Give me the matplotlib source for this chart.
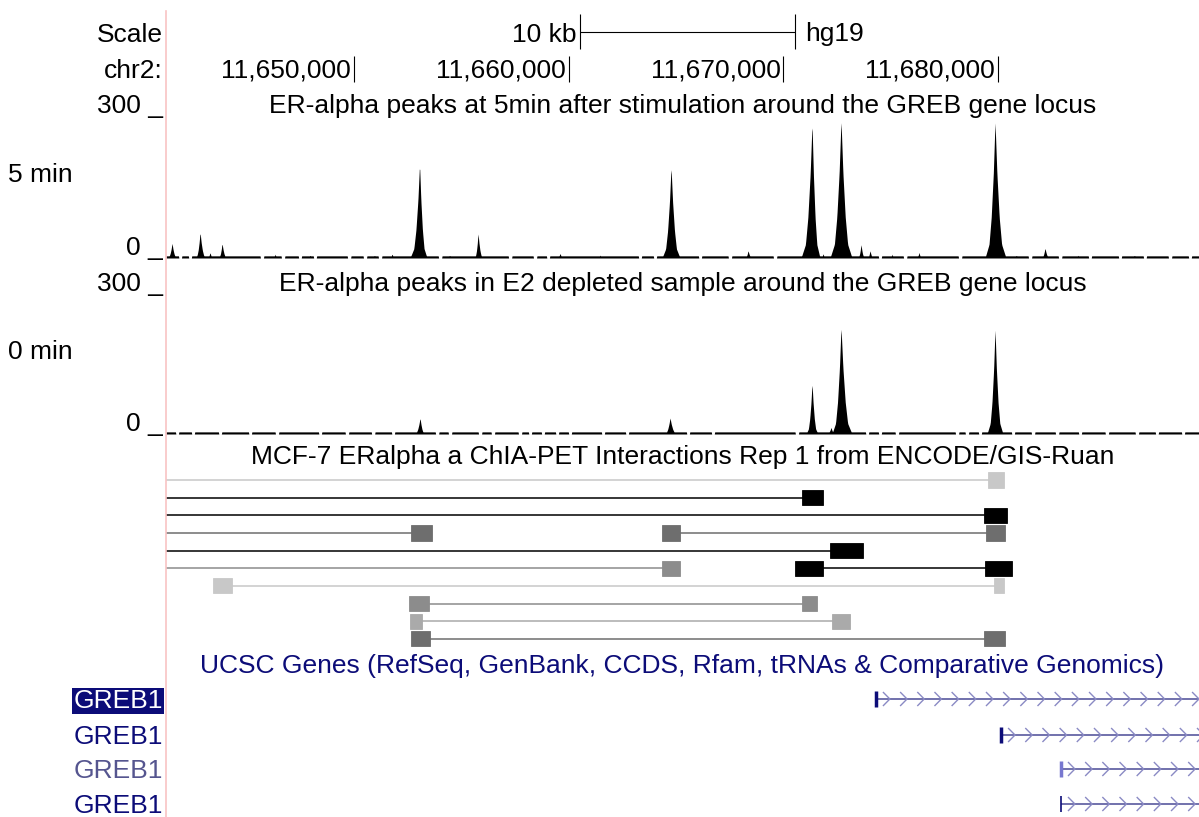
import matplotlib
matplotlib.use("Agg")
import matplotlib.pyplot as plt
import numpy as np
from matplotlib.patches import Rectangle

plt.rcParams['font.family'] = ['Liberation Sans', 'DejaVu Sans']

W, H = 1199, 817
FS = 19

# visible window on chr2 (hg19)
view = (11641240, 11689360)

ruler_ticks = [11650000, 11660000, 11670000, 11680000]
ruler_labels = ["11,650,000", "11,660,000", "11,670,000", "11,680,000"]
scale_bar = (11660530, 11670530)

# wiggle peaks: (left foot, summit, right foot, height)
peaks_5min = [
    (11641290, 11641522, 11641755, 31),
    (11642594, 11642827, 11643106, 54),
    (11643150, 11643292, 11643420, 12),
    (11643665, 11643851, 11644084, 31),
    (11644900, 11645050, 11645200, 5),
    (11646200, 11646320, 11646450, 8),
    (11647800, 11647950, 11648100, 6),
    (11649000, 11649150, 11649300, 5),
    (11650800, 11650950, 11651100, 6),
    (11651650, 11651770, 11651900, 9),
    (11652608, 11653051, 11653400, 196),
    (11654300, 11654450, 11654600, 6),
    (11655590, 11655776, 11656009, 52),
    (11656600, 11656750, 11656900, 5),
    (11659450, 11659595, 11659750, 10),
    (11660500, 11660650, 11660800, 5),
    (11661350, 11661460, 11661580, 6),
    (11662300, 11662450, 11662600, 5),
    (11664347, 11664766, 11665185, 190),
    (11666700, 11666850, 11667000, 5),
    (11668200, 11668353, 11668550, 16),
    (11670821, 11671334, 11671706, 281),
    (11671750, 11671846, 11671960, 10),
    (11672172, 11672684, 11673197, 287),
    (11673450, 11673616, 11673800, 29),
    (11673900, 11674035, 11674200, 16),
    (11674950, 11675060, 11675180, 8),
    (11676180, 11676318, 11676450, 12),
    (11677400, 11677550, 11677700, 5),
    (11679392, 11679858, 11680370, 284),
    (11680700, 11680850, 11681000, 6),
    (11682000, 11682187, 11682400, 21),
    (11683600, 11683724, 11683850, 6),
    (11685100, 11685250, 11685400, 5),
    (11686200, 11686350, 11686500, 6),
]
peaks_0min = [
    (11643800, 11643950, 11644100, 5),
    (11647000, 11647150, 11647300, 5),
    (11652795, 11653074, 11653307, 34),
    (11660700, 11660850, 11661000, 5),
    (11664440, 11664719, 11665045, 34),
    (11671054, 11671334, 11671613, 108),
    (11671990, 11672219, 11672420, 14),
    (11672260, 11672684, 11673197, 226),
    (11679485, 11679858, 11680230, 222),
    (11684200, 11684350, 11684500, 5),
]
# gaps in the baseline signal (kb)
gaps_5min = [11641.90, 11642.36, 11645.71, 11646.69, 11647.48, 11648.18, 11649.77,
             11650.51, 11651.21, 11654.01, 11657.27, 11658.43, 11659.04, 11663.32,
             11664.02, 11666.12, 11667.51, 11669.61, 11674.50, 11675.67, 11678.23,
             11681.49, 11682.89, 11684.28, 11685.68, 11686.84, 11688.01, 11688.94]
gaps_0min = [11641.76, 11642.50, 11643.76, 11645.16, 11646.41, 11648.42, 11649.67,
             11650.89, 11651.82, 11653.87, 11654.47, 11655.87, 11656.47, 11657.73,
             11658.20, 11658.80, 11659.46, 11660.06, 11661.60, 11662.72, 11665.56,
             11666.72, 11670.63, 11673.90, 11674.50, 11675.29, 11678.09, 11678.55,
             11679.16, 11680.70, 11681.63, 11682.75, 11683.82, 11685.07, 11686.47,
             11687.40, 11688.62]

# ChIA-PET interactions (None = anchor outside the window)
chia_row = [0, 1, 2, 3, 3, 4, 5, 5, 6, 7, 8, 9]
chia_left = [None, None, None, None, (11664347, 11665185), None, None,
             (11670542, 11671846), (11643432, 11644317), (11652562, 11653494),
             (11652608, 11653167), (11652655, 11653540)]
chia_right = [(11679532, 11680277), (11670868, 11671846), (11679345, 11680417),
              (11652655, 11653633), (11679439, 11680324), (11672172, 11673709),
              (11664347, 11665185), (11679392, 11680650), (11679811, 11680277),
              (11670868, 11671567), (11672265, 11673104), (11679345, 11680324)]
chia_shade = ['#c8c8c8', '#000000', '#000000', '#6e6e6e', '#6e6e6e', '#000000',
              '#8c8c8c', '#000000', '#c8c8c8', '#8c8c8c', '#aaaaaa', '#6e6e6e']

# UCSC genes
gene_names = ["GREB1", "GREB1", "GREB1", "GREB1"]
gene_starts = [11674310, 11680140, 11682930, 11682930]
gene_text_color = ['white', '#0c0c78', '#55558f', '#0c0c78']
gene_tick_color = ['#0c0c78', '#0c0c78', '#7878d0', '#0c0c78']

fig = plt.figure(figsize=(W / 100, H / 100), dpi=100)


def px_axes(x0, y0, x1, y1, ylim):
    ax = fig.add_axes([x0 / W, 1 - y1 / H, (x1 - x0) / W, (y1 - y0) / H])
    ax.set_xlim(*view)
    ax.set_ylim(*ylim)
    ax.axis('off')
    return ax


def ftext(x, y, s, **kw):
    kw.setdefault('fontsize', FS)
    kw.setdefault('va', 'baseline')
    fig.text(x / W, 1 - y / H, s, **kw)


def profile(peaks, gaps, floor=4.5):
    xs = np.arange(view[0], view[1], 20.0)
    ys = np.full_like(xs, floor)
    for g in gaps:
        ys[np.abs(xs - g * 1000) < 80] = 0
    for left, top, right, h in peaks:
        vx = [left, top - (top - left) * 0.6, top - (top - left) * 0.38,
              top - (top - left) * 0.17, top,
              top + (right - top) * 0.17, top + (right - top) * 0.38,
              top + (right - top) * 0.6, right]
        vy = [0, 0.1 * h, 0.3 * h, 0.62 * h, h, 0.62 * h, 0.3 * h, 0.1 * h, 0]
        ys = np.maximum(ys, np.interp(xs, vx, vy, left=0, right=0))
    return xs, ys


XL, XR = 166, 1199

# pink guideline between labels and data
fig.add_artist(plt.Line2D([165.5 / W, 165.5 / W], [0, 1 - 11 / H], color='#f8c4c4', lw=1.2))

# ruler
rul = px_axes(XL, 0, XR, 90, (90, 0))
rul.hlines(32, *scale_bar, color='black', lw=0.8)
rul.vlines(scale_bar, 14, 49, color='black', lw=0.8)
rul.annotate("10 kb", (scale_bar[0], 41.5), xytext=(-4, 0), textcoords='offset pixels',
             ha='right', va='baseline', fontsize=FS)
rul.annotate("hg19", (scale_bar[1], 41.5), xytext=(10, 0), textcoords='offset pixels',
             ha='left', va='baseline', fontsize=FS)
rul.vlines(ruler_ticks, 56, 82, color='black', lw=0.8)
for t, lab in zip(ruler_ticks, ruler_labels):
    rul.annotate(lab, (t, 77.5), xytext=(-3, 0), textcoords='offset pixels',
                 ha='right', va='baseline', fontsize=FS)

ftext(163, 41.5, "Scale", ha='right')
ftext(163, 77.5, "chr2:", ha='right')

# wiggle tracks
tracks = [
    ("ER-alpha peaks at 5min after stimulation around the GREB gene locus", "5 min",
     peaks_5min, gaps_5min, 114, 258, 181.5),
    ("ER-alpha peaks in E2 depleted sample around the GREB gene locus", "0 min",
     peaks_0min, gaps_0min, 292, 434, 358.5),
]
for title, lab, pk, gp, top, base, lab_y in tracks:
    ax = px_axes(XL, top, XR, base, (0, 300))
    xs, ys = profile(pk, gp)
    ax.fill_between(xs, 0, ys, color='black', lw=0)
    ftext((XL + XR) / 2, top - 1.5, title, ha='center')
    ftext(163, top - 1.5, "300 _", ha='right')
    ftext(163, base - 3.5, "0 _", ha='right')
    ftext(8, lab_y, lab, ha='left')

# ChIA-PET interactions
ftext((XL + XR) / 2, 464.5, "MCF-7 ERalpha a ChIA-PET Interactions Rep 1 from ENCODE/GIS-Ruan", ha='center')
row_h = 17.65
chia = px_axes(XL, 480 - row_h / 2, XR, 480 + 9.5 * row_h, (9.5, -0.5))
for r, a, b, c in zip(chia_row, chia_left, chia_right, chia_shade):
    x0 = view[0] if a is None else (a[0] + a[1]) / 2
    x1 = (b[0] + b[1]) / 2
    chia.hlines(r, x0, x1, color=c, lw=1.1)
    for blk in (a, b):
        if blk is None:
            continue
        chia.add_patch(Rectangle((blk[0], r - 0.43), blk[1] - blk[0], 0.86,
                                 facecolor=c, edgecolor=c, lw=0.6))

# UCSC genes
ftext((XL + XR) / 2, 672.5, "UCSC Genes (RefSeq, GenBank, CCDS, Rfam, tRNAs & Comparative Genomics)",
      ha='center', color='#0c0c78')
gene_y = [699, 735, 769, 804]
gax = px_axes(XL, 680, XR, 817, (817, 680))
chev_step = 800
for i, (nm, st) in enumerate(zip(gene_names, gene_starts)):
    y = gene_y[i]
    gax.hlines(y, st, view[1], color='#4a4a96', lw=1.1)
    for c in np.arange(st + 650, view[1] + chev_step, chev_step):
        gax.plot([c - 300, c, c - 300], [y - 6.5, y, y + 6.5], color='#8a8ac4', lw=1.0)
    lw = 2.5 if i < 3 else 1.2
    gax.vlines(st, y - 8, y + 8, color=gene_tick_color[i], lw=lw)
    if i == 0:
        ftext(163, y + 9, nm, ha='right', color='white',
              bbox=dict(boxstyle='square,pad=0.05', facecolor='#0c0c78', edgecolor='none'))
    else:
        ftext(163, y + 9, nm, ha='right', color=gene_text_color[i])

fig.savefig("out.png", dpi=100)
